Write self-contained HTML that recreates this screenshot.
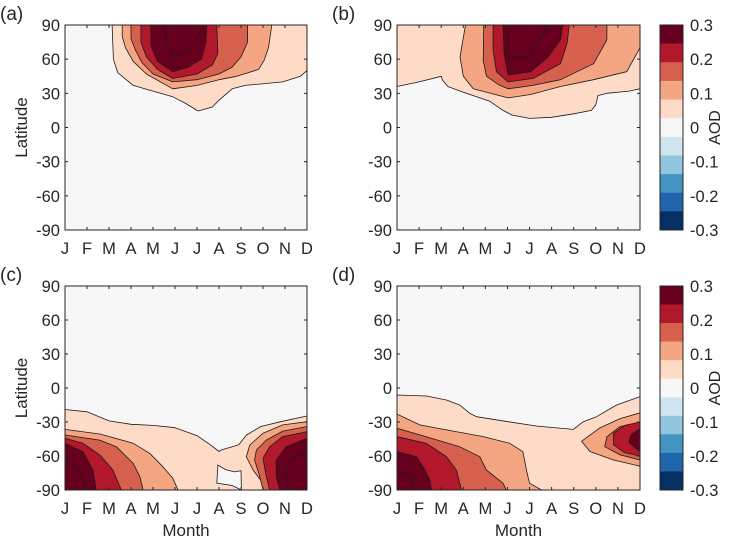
<!DOCTYPE html>
<html><head><meta charset="utf-8"><style>
body{margin:0;background:#fff;}
svg{display:block;font-family:"Liberation Sans",Arial,sans-serif;}
text{fill:#262626;font-size:16.5px;}
</style></head><body>
<svg id="chart" width="744" height="539" viewBox="0 0 744 539"></svg>
<script>
const months = ["J","F","M","A","M","J","J","A","S","O","N","D"];
const latTicks = [90,60,30,0,-30,-60,-90];
const levelColors = ["#fddbc7","#f4a582","#d6604d","#b2182b","#67001f"];
const cbColors = ["#67001f","#b2182b","#d6604d","#f4a582","#fddbc7","#f7f7f7","#d1e5f0","#92c5de","#4393c3","#2166ac","#053061"];
const cbLabels = ["0.3","0.2","0.1","0","-0.1","-0.2","-0.3"];
// contour polygons per panel: [month, latitude] pairs, level 1..5 filled; lines = extra contour lines
const panelA = [
 [[2.14,90],[2.2,60],[2.4,48],[3.1,37],[3.8,33],[4.9,27],[5.5,21],[6.05,14.5],[6.7,18],[7.0,24],[7.6,34],[8.2,37],[9.9,40],[10.7,45],[11,50],[11,90]],
 [[2.6,90],[2.6,80],[2.75,70],[3.1,58],[3.7,47],[4.9,34],[6,37],[7,42],[7.8,45],[8.8,51],[9.05,59],[9.25,70],[9.4,90]],
 [[3.0,90],[3.0,78],[3.2,68],[3.5,57],[4.0,47],[4.9,40],[6,42],[7,47],[7.6,53],[8.0,62],[8.3,75],[8.3,90]],
 [[3.45,90],[3.45,75],[3.7,62],[4.2,51],[4.9,43],[6,47],[6.7,55],[6.95,65],[6.9,90]],
 [[3.9,90],[3.9,72],[4.2,58],[4.9,49],[5.6,53],[6.2,60],[6.4,75],[6.45,90]]
];
const linesA = [[[4.5,90],[4.6,75],[5.0,61],[5.5,67],[5.9,75],[6.3,90]]];
const panelB = [
 [[0,90],[0,36],[1,40],[2,45],[2.05,42],[2.3,36],[3.0,31],[4.2,23],[4.8,15],[5.2,11],[6.0,8],[7,9],[8,12],[8.8,15],[9.0,20],[9.1,28],[9.5,30],[10.5,32],[11,34],[11,90]],
 [[3.1,90],[2.85,62],[3.0,45],[3.45,34],[5.03,26],[6.05,29],[7.4,36],[8.9,42],[10.4,49],[11,70],[11,90]],
 [[3.93,90],[3.9,59],[4.05,45],[4.65,37],[5.03,34],[6.15,37],[7.4,42],[8.9,56],[9.5,77],[9.5,90]],
 [[4.35,90],[4.35,68],[4.5,49],[5.03,40],[6.15,43],[7.4,56],[7.7,74],[7.8,90]],
 [[4.8,90],[4.85,65],[5.03,46],[6.05,49],[6.8,61],[7.4,77],[7.5,90]]
];
const linesB = [[[4.95,90],[5.03,62],[6.05,62],[6.35,75],[6.9,90]]];
const panelC = [
 [[0,-90],[0,-19],[1,-21],[2,-29],[3,-32],[4,-33],[5,-35],[6,-42],[6.6,-50],[7.0,-56],[7.1,-54.7],[7.9,-50],[8.25,-41.5],[8.9,-34],[9.8,-29.7],[11,-24.7],[11,-90]],
 [[0,-90],[0,-36.5],[1.58,-40.6],[3.1,-48.8],[3.85,-57.6],[4.45,-69.4],[4.9,-79.7],[5.14,-90]],
 [[0,-90],[0,-41.5],[1.58,-46],[2.33,-51.8],[3.1,-66.5],[3.4,-78],[3.55,-90]],
 [[0,-90],[0,-44.4],[0.82,-48.8],[1.58,-59],[2.18,-72.4],[2.56,-90]],
 [[0,-90],[0,-48.8],[0.82,-56.2],[1.27,-72.4],[1.42,-90]],
 [[11,-90],[11,-29.7],[9.9,-32.6],[9.0,-40],[8.4,-50.3],[8.24,-60.6],[8.55,-72.4],[9.0,-84],[9.07,-90]],
 [[11,-90],[11,-34],[9.9,-38],[9.15,-46],[8.7,-54.7],[8.62,-63.5],[8.85,-78],[9.0,-90]],
 [[11,-90],[11,-38.5],[9.9,-42.9],[9.3,-51.8],[9.0,-62],[9.15,-78],[9.3,-90]],
 [[11,-90],[11,-44.4],[10.06,-51.8],[9.6,-63.5],[9.6,-78],[9.76,-90]]
];
const levelsC = [1,2,3,4,5,2,3,4,5];
const notchC = [[6.95,-68],[7.3,-72],[7.7,-74],[8.0,-73],[8.02,-90],[7.6,-86],[6.9,-84]];
const linesC = [[[0,-62],[0.7,-75],[1.0,-90]],[[11,-55],[10.3,-63],[10.0,-75],[10.2,-90]]];
const panelD = [
 [[0,-90],[0,-6.2],[1.33,-7.1],[2.24,-10.6],[2.84,-15],[3.3,-22.4],[3.6,-25.3],[5.03,-29.7],[6.3,-33.5],[7.98,-36.5],[8.43,-29.7],[9.03,-25.3],[9.94,-15],[11,-7.6],[11,-90]],
 [[0,-90],[0,-23],[1.03,-32.6],[2.24,-37],[3.9,-42.9],[5.1,-48.8],[5.7,-56.2],[5.86,-72.4],[6.0,-84],[6.54,-90]],
 [[0,-90],[0,-35.6],[1.33,-43],[2.84,-51.8],[3.75,-60.6],[4.05,-72.4],[4.8,-84],[4.95,-90]],
 [[0,-90],[0,-43],[1.33,-48.8],[2.24,-60.6],[2.69,-72.4],[2.92,-90]],
 [[0,-90],[0,-56],[0.88,-60.6],[1.18,-69.4],[1.48,-81],[1.56,-90]],
 [[11,-22],[10.1,-27],[9.2,-35],[8.35,-47],[8.73,-56],[9.8,-63.5],[11,-69]],
 [[11,-31],[10.1,-34],[9.5,-43],[9.4,-51.8],[10.1,-59],[11,-63.5]],
 [[11,-30],[10.3,-33],[9.8,-40],[9.8,-50],[10.3,-57],[11,-60]],
 [[11,-36],[10.6,-41],[10.5,-48],[10.8,-53],[11,-56]]
];
const levelsD = [1,2,3,4,5,2,3,4,5];
const linesD = [[[0,-74],[0.6,-77],[0.8,-90]]];

const NS="http://www.w3.org/2000/svg";
const svg=document.getElementById('chart');
function mk(tag,attrs,parent){const e=document.createElementNS(NS,tag);for(const k in attrs)e.setAttribute(k,attrs[k]);(parent||svg).appendChild(e);return e;}

function panel(id,label,x0,x1,y0,y1,polys,levels,lines,extraWhite,showY,showMonth){
  const g=mk('g',{});
  
  
  const xs=m=>x0+(x1-x0)*m/11;
  const ys=l=>y0+(y1-y0)*(90-l)/180;
  const cp=mk('clipPath',{id:'clip'+id},g);
  mk('rect',{x:x0,y:y0,width:x1-x0,height:y1-y0},cp);
  const bg=mk('rect',{x:x0,y:y0,width:x1-x0,height:y1-y0,fill:'#f7f7f7'},g);
  
  
  const cg=mk('g',{'clip-path':'url(#clip'+id+')'},g);
  const pts=p=>p.map(q=>xs(q[0]).toFixed(1)+','+ys(q[1]).toFixed(1)).join(' ');
  polys.forEach((p,i)=>{
    const lv=levels?levels[i]:i+1;
    const e=mk('polygon',{points:pts(p),fill:levelColors[lv-1],stroke:'#1a1a1a','stroke-width':0.8,'stroke-linejoin':'round'},cg);
    
    
  });
  if(extraWhite){
    const e=mk('polygon',{points:pts(extraWhite),fill:'#f7f7f7',stroke:'#1a1a1a','stroke-width':0.8},cg);
    
    
  }
  lines.forEach(p=>{
    const e=mk('polyline',{points:pts(p),fill:'none',stroke:'#1a1a1a','stroke-width':0.8},cg);
    
    
  });
  const fr=mk('rect',{x:x0,y:y0,width:x1-x0,height:y1-y0,fill:'none',stroke:'#262626','stroke-width':1},g);
  
  
  months.forEach((m,i)=>{
    const x=xs(i);
    mk('line',{x1:x,x2:x,y1:y1,y2:y1-3,stroke:'#262626'},g);
    mk('line',{x1:x,x2:x,y1:y0,y2:y0+3,stroke:'#262626'},g);
    const t=mk('text',{x:x,y:y1+24,'text-anchor':'middle'},g);t.textContent=m;
    
    
  });
  latTicks.forEach(l=>{
    const y=ys(l);
    mk('line',{x1:x0,x2:x0+3,y1:y,y2:y,stroke:'#262626'},g);
    mk('line',{x1:x1,x2:x1-3,y1:y,y2:y,stroke:'#262626'},g);
    const t=mk('text',{x:x0-5,y:y+6,'text-anchor':'end'},g);t.textContent=l;
    
    
  });
  const pl=mk('text',{x:x0-65,y:y0-5,style:'font-size:19px'},g);pl.textContent=label;
  
  
  if(showY){
    const yc=(y0+y1)/2;
    const t=mk('text',{x:27,y:yc,'text-anchor':'middle',transform:'rotate(-90 27 '+yc+')',style:'font-size:17px'},g);t.textContent='Latitude';
    
    
  }
  if(showMonth){
    const t=mk('text',{x:(x0+x1)/2,y:536,'text-anchor':'middle',style:'font-size:17px'},g);t.textContent='Month';
    
    
  }
}
function colorbar(id,x0,y0,y1){
  const g=mk('g',{});
  
  
  const h=(y1-y0)/cbColors.length;
  cbColors.forEach((c,i)=>{
    const r=mk('rect',{x:x0,y:y0+i*h,width:23,height:h+0.3,fill:c},g);
    
    
  });
  mk('rect',{x:x0,y:y0,width:23,height:y1-y0,fill:'none',stroke:'#262626'},g);
  cbLabels.forEach((l,i)=>{
    const y=y0+(y1-y0)*i/(cbLabels.length-1);
    const t=mk('text',{x:x0+30,y:y+6},g);t.textContent=l;
    
    
  });
  const yc=(y0+y1)/2, xc=x0+60;
  const t=mk('text',{x:xc,y:yc,'text-anchor':'middle',transform:'rotate(-90 '+xc+' '+yc+')',style:'font-size:16px'},g);t.textContent='AOD';
  
  
}
panel('a','(a)',65,307,25,230,panelA,null,linesA,null,true,false);
panel('b','(b)',397,640,25,230,panelB,null,linesB,null,false,false);
panel('c','(c)',65,307,286,490,panelC,levelsC,linesC,notchC,true,true);
panel('d','(d)',397,640,286,490,panelD,levelsD,linesD,null,false,true);
colorbar('top',660,25,230);
colorbar('bottom',660,286,490);
</script>
</body></html>
